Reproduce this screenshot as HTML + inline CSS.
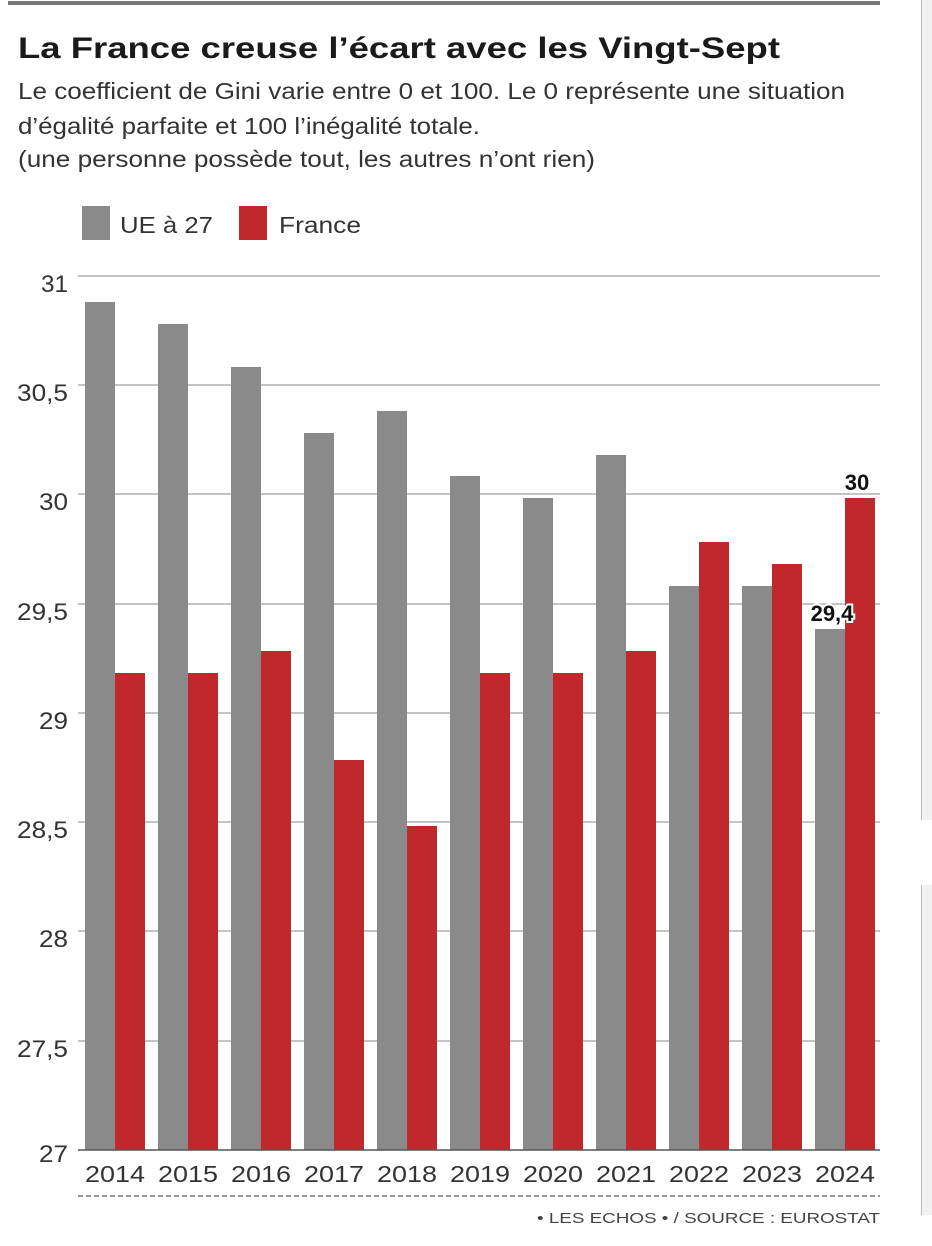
<!DOCTYPE html>
<html><head><meta charset="utf-8"><style>
html,body{margin:0;padding:0;background:#fff;}
svg{display:block;font-family:"Liberation Sans",sans-serif;}
</style></head><body>
<svg width="932" height="1246" viewBox="0 0 932 1246" xmlns="http://www.w3.org/2000/svg">
<rect width="932" height="1246" fill="#fff"/>
<rect x="921" y="0" width="11" height="820" fill="#f1f1f1"/>
<line x1="921.5" y1="0" x2="921.5" y2="820" stroke="#bbb"/>
<rect x="921" y="885" width="11" height="330" fill="#f1f1f1"/>
<line x1="921.5" y1="885" x2="921.5" y2="1215" stroke="#bbb"/>
<line x1="8" y1="3" x2="880" y2="3" stroke="#777" stroke-width="4"/>
<text x="18" y="58" font-size="30" font-weight="bold" fill="#1a1a1a" textLength="762" lengthAdjust="spacingAndGlyphs">La France creuse l’écart avec les Vingt-Sept</text>
<g font-size="23" fill="#333">
<text x="18" y="99" textLength="827" lengthAdjust="spacingAndGlyphs">Le coefficient de Gini varie entre 0 et 100. Le 0 représente une situation</text>
<text x="18" y="134" textLength="462" lengthAdjust="spacingAndGlyphs">d’égalité parfaite et 100 l’inégalité totale.</text>
<text x="18" y="167" textLength="577" lengthAdjust="spacingAndGlyphs">(une personne possède tout, les autres n’ont rien)</text>
</g>
<rect x="82" y="206" width="28" height="34" fill="#8a8a8a"/>
<text x="120" y="233" font-size="23" fill="#333" textLength="93" lengthAdjust="spacingAndGlyphs">UE à 27</text>
<rect x="239" y="206" width="28" height="34" fill="#c0282b"/>
<text x="279" y="233" font-size="23" fill="#333" textLength="82" lengthAdjust="spacingAndGlyphs">France</text>
<g stroke="#888" stroke-width="1">
<line x1="78" y1="276" x2="880" y2="276"/>
<line x1="78" y1="385" x2="880" y2="385"/>
<line x1="78" y1="494" x2="880" y2="494"/>
<line x1="78" y1="604" x2="880" y2="604"/>
<line x1="78" y1="713" x2="880" y2="713"/>
<line x1="78" y1="822" x2="880" y2="822"/>
<line x1="78" y1="931" x2="880" y2="931"/>
<line x1="78" y1="1041" x2="880" y2="1041"/>
</g>
<g font-size="24" fill="#333" text-anchor="end">
<text x="68" y="292" textLength="27" lengthAdjust="spacingAndGlyphs">31</text>
<text x="68" y="401" textLength="51" lengthAdjust="spacingAndGlyphs">30,5</text>
<text x="68" y="510" textLength="29" lengthAdjust="spacingAndGlyphs">30</text>
<text x="68" y="620" textLength="51" lengthAdjust="spacingAndGlyphs">29,5</text>
<text x="68" y="729" textLength="29" lengthAdjust="spacingAndGlyphs">29</text>
<text x="68" y="838" textLength="51" lengthAdjust="spacingAndGlyphs">28,5</text>
<text x="68" y="947" textLength="29" lengthAdjust="spacingAndGlyphs">28</text>
<text x="68" y="1057" textLength="51" lengthAdjust="spacingAndGlyphs">27,5</text>
<text x="68" y="1162" textLength="29" lengthAdjust="spacingAndGlyphs">27</text>
</g>
<g fill="#8a8a8a">
<rect x="85" y="302" width="30" height="848"/>
<rect x="158" y="324" width="30" height="826"/>
<rect x="231" y="367" width="30" height="783"/>
<rect x="304" y="433" width="30" height="717"/>
<rect x="377" y="411" width="30" height="739"/>
<rect x="450" y="476" width="30" height="674"/>
<rect x="523" y="498" width="30" height="652"/>
<rect x="596" y="455" width="30" height="695"/>
<rect x="669" y="586" width="30" height="564"/>
<rect x="742" y="586" width="30" height="564"/>
<rect x="815" y="629" width="30" height="521"/>
</g>
<g fill="#c0282b">
<rect x="115" y="673" width="30" height="477"/>
<rect x="188" y="673" width="30" height="477"/>
<rect x="261" y="651" width="30" height="499"/>
<rect x="334" y="760" width="30" height="390"/>
<rect x="407" y="826" width="30" height="324"/>
<rect x="480" y="673" width="30" height="477"/>
<rect x="553" y="673" width="30" height="477"/>
<rect x="626" y="651" width="30" height="499"/>
<rect x="699" y="542" width="30" height="608"/>
<rect x="772" y="564" width="30" height="586"/>
<rect x="845" y="498" width="30" height="652"/>
</g>
<line x1="78" y1="1150" x2="880" y2="1150" stroke="#555" stroke-width="1.5"/>
<text x="857" y="490" font-size="22" font-weight="bold" fill="#111" text-anchor="middle">30</text>
<text x="832" y="621" font-size="22" font-weight="bold" fill="#111" text-anchor="middle" stroke="#fff" stroke-width="4" paint-order="stroke">29,4</text>
<g font-size="23" fill="#333" text-anchor="middle">
<text x="115" y="1182" textLength="60" lengthAdjust="spacingAndGlyphs">2014</text><text x="188" y="1182" textLength="60" lengthAdjust="spacingAndGlyphs">2015</text><text x="261" y="1182" textLength="60" lengthAdjust="spacingAndGlyphs">2016</text>
<text x="334" y="1182" textLength="60" lengthAdjust="spacingAndGlyphs">2017</text><text x="407" y="1182" textLength="60" lengthAdjust="spacingAndGlyphs">2018</text><text x="480" y="1182" textLength="60" lengthAdjust="spacingAndGlyphs">2019</text>
<text x="553" y="1182" textLength="60" lengthAdjust="spacingAndGlyphs">2020</text><text x="626" y="1182" textLength="60" lengthAdjust="spacingAndGlyphs">2021</text><text x="699" y="1182" textLength="60" lengthAdjust="spacingAndGlyphs">2022</text>
<text x="772" y="1182" textLength="60" lengthAdjust="spacingAndGlyphs">2023</text><text x="845" y="1182" textLength="60" lengthAdjust="spacingAndGlyphs">2024</text>
</g>
<line x1="78" y1="1196" x2="880" y2="1196" stroke="#999" stroke-width="2" stroke-dasharray="5,3"/>
<text x="880" y="1223" font-size="15" fill="#444" text-anchor="end" textLength="343" lengthAdjust="spacingAndGlyphs">• LES ECHOS • / SOURCE : EUROSTAT</text>
</svg>
</body></html>
